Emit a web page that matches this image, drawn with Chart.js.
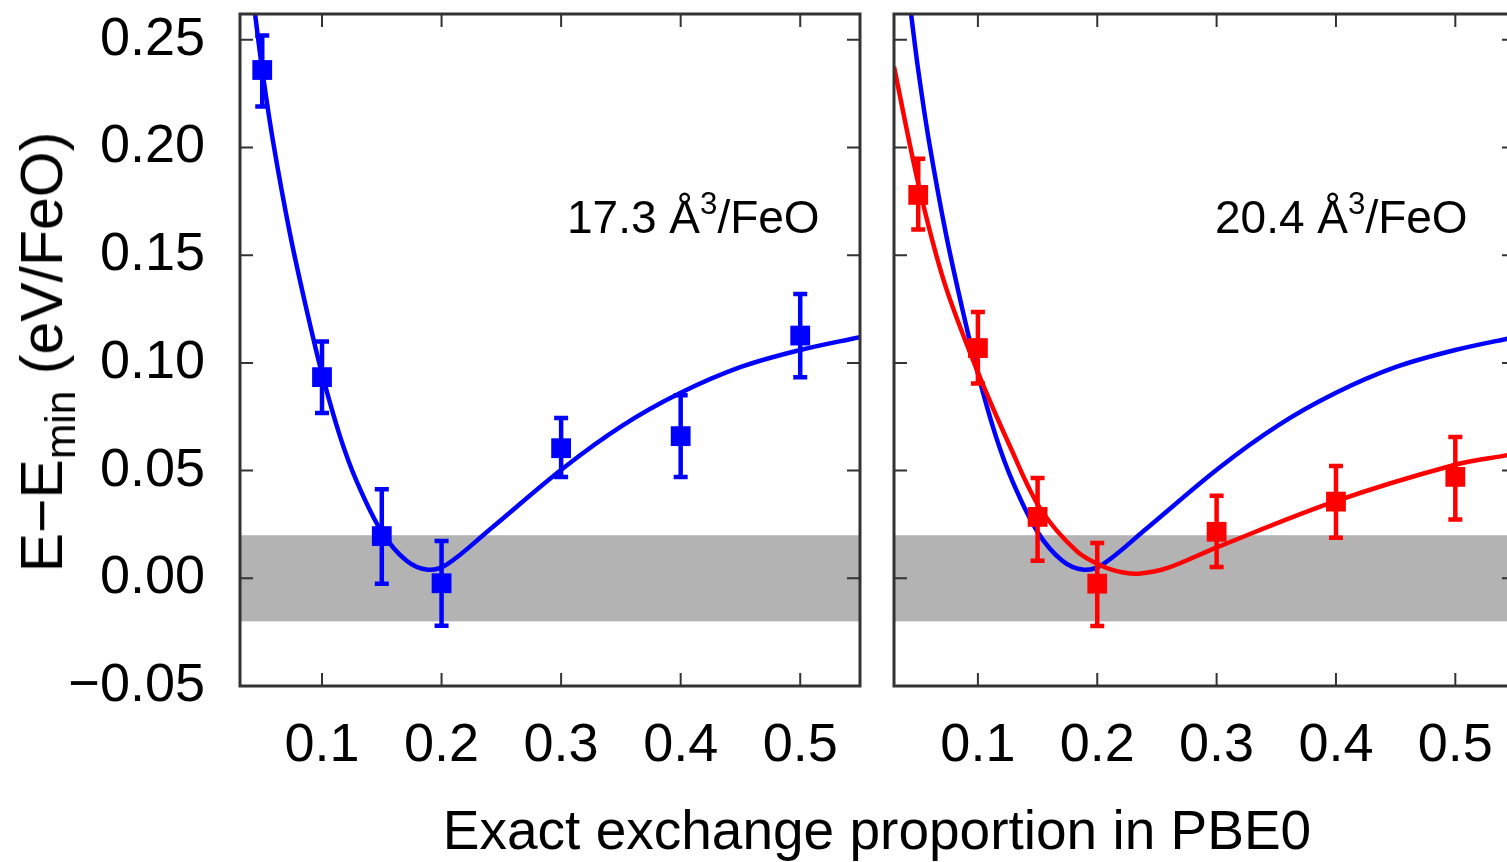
<!DOCTYPE html>
<html>
<head>
<meta charset="utf-8">
<script src="https://cdn.jsdelivr.net/npm/chart.js@4.4.1/dist/chart.umd.min.js"></script>
<style>
html, body { margin: 0; padding: 0; background: #fff; overflow: hidden; width: 1507px; height: 862px; }
body { position: relative; font-family: "Liberation Sans", Arial, sans-serif; color: #000; }
.panel { position: absolute; top: 0; height: 862px; }
#leftBox { left: 0; width: 880px; }
#rightBox { left: 880px; width: 650px; }
.note { position: absolute; top: 194px; font-size: 46px; line-height: 46px; white-space: nowrap; }
.note span { font-size: 0.68em; position: relative; top: -0.62em; }
#ytitle { position: absolute; left: 45px; top: 352px; font-size: 59px; line-height: 59px; white-space: nowrap;
  transform: translate(-50%, -50%) rotate(-90deg); }
#ytitle span { font-size: 0.72em; position: relative; top: 0.3em; }
#xtitle { position: absolute; left: 877px; top: 803px; font-size: 55px; line-height: 55px; white-space: nowrap;
  transform: translateX(-50%); }
</style>
</head>
<body>
<div class="panel" id="leftBox"><canvas id="leftChart"></canvas></div>
<div class="panel" id="rightBox"><canvas id="rightChart"></canvas></div>
<div class="note" style="left:567px">17.3 Å<span>3</span>/FeO</div>
<div class="note" style="left:1215px">20.4 Å<span>3</span>/FeO</div>
<div id="ytitle">E−E<span>min</span> (eV/FeO)</div>
<div id="xtitle">Exact exchange proportion in PBE0</div>
<script>
// exact exchange fractions of the computed points
let xVals = [0.05, 0.10, 0.15, 0.20, 0.30, 0.40, 0.50]

// 17.3 A^3/FeO (blue)
let e173 = [0.236, 0.0934, 0.0196, -0.0023, 0.0604, 0.066, 0.1127]
let e173Lo = [0.219, 0.0768, -0.0025, -0.022, 0.047, 0.047, 0.0934]
let e173Hi = [0.252, 0.110, 0.0413, 0.0173, 0.0744, 0.085, 0.132]

// 20.4 A^3/FeO (red)
let e204 = [0.178, 0.1069, 0.0285, -0.0025, 0.0216, 0.0356, 0.0471]
let e204Lo = [0.162, 0.0905, 0.0082, -0.0222, 0.0053, 0.0188, 0.0273]
let e204Hi = [0.1948, 0.1236, 0.0466, 0.0164, 0.0383, 0.0521, 0.0656]

// fitted curves
let fit173X = [0.044, 0.05, 0.059, 0.0732, 0.0874, 0.10, 0.115, 0.129, 0.15, 0.171, 0.1887, 0.2046, 0.2406, 0.3017, 0.3519, 0.3996, 0.4498, 0.50, 0.55]
let fit173Y = [0.262, 0.236, 0.203, 0.160, 0.124, 0.095, 0.066, 0.045, 0.0215, 0.0080, 0.0040, 0.0065, 0.0228, 0.0511, 0.0711, 0.086, 0.098, 0.106, 0.112]
let fit204X = [0.0297, 0.0506, 0.0715, 0.099, 0.1276, 0.1527, 0.183, 0.205, 0.222, 0.236, 0.259, 0.3008, 0.398, 0.4983, 0.5435]
let fit204Y = [0.2375, 0.182, 0.138, 0.097, 0.0604, 0.032, 0.0125, 0.0055, 0.0027, 0.0022, 0.0048, 0.0145, 0.0355, 0.0525, 0.0572]

let xTicks = [0.1, 0.2, 0.3, 0.4, 0.5]
let yTicks = [-0.05, 0.00, 0.05, 0.10, 0.15, 0.20, 0.25]
let bandLo = -0.02
let bandHi = 0.02

let font = { family: "'Liberation Sans', Arial, sans-serif", size: 54 }

function pts(xs, ys) {
    return xs.map((x, i) => ({ x: x, y: ys[i] }))
}

// grey band, inward ticks, frame and error bars
let framePlugin = {
    id: "frame",
    beforeDatasetsDraw(chart) {
        let ctx = chart.ctx, a = chart.chartArea, y = chart.scales.y
        let t = y.getPixelForValue(bandHi), b = y.getPixelForValue(bandLo)
        ctx.save()
        ctx.fillStyle = "#b3b3b3"
        ctx.fillRect(a.left, t, a.right - a.left, b - t)
        ctx.restore()
    },
    afterDatasetsDraw(chart) {
        let ctx = chart.ctx, y = chart.scales.y, x = chart.scales.x
        ctx.save()
        chart.data.datasets.forEach(ds => {
            if (!ds.errLo) return
            ctx.strokeStyle = ds.backgroundColor
            ctx.lineWidth = 4.5
            ds.data.forEach((p, i) => {
                let px = x.getPixelForValue(p.x)
                let lo = y.getPixelForValue(ds.errLo[i]), hi = y.getPixelForValue(ds.errHi[i])
                ctx.beginPath()
                ctx.moveTo(px, lo); ctx.lineTo(px, hi)
                ctx.moveTo(px - 7, lo); ctx.lineTo(px + 7, lo)
                ctx.moveTo(px - 7, hi); ctx.lineTo(px + 7, hi)
                ctx.stroke()
            })
        })
        ctx.restore()
    },
    afterDraw(chart) {
        let ctx = chart.ctx, a = chart.chartArea, y = chart.scales.y, x = chart.scales.x
        ctx.save()
        ctx.strokeStyle = "#333"
        ctx.lineWidth = 2
        ctx.beginPath()
        yTicks.forEach(v => {
            let py = y.getPixelForValue(v)
            ctx.moveTo(a.left, py); ctx.lineTo(a.left + 13, py)
            ctx.moveTo(a.right, py); ctx.lineTo(a.right - 13, py)
        })
        xTicks.forEach(v => {
            let px = x.getPixelForValue(v)
            ctx.moveTo(px, a.bottom); ctx.lineTo(px, a.bottom - 13)
            ctx.moveTo(px, a.top); ctx.lineTo(px, a.top + 13)
        })
        ctx.stroke()
        ctx.lineWidth = 3
        ctx.strokeRect(a.left, a.top, a.right - a.left, a.bottom - a.top)
        ctx.restore()
    }
}

function makeChart(id, xMin, showY, pad, datasets) {
    return new Chart(document.getElementById(id).getContext("2d"), {
        type: "scatter",
        data: { datasets: datasets },
        options: {
            responsive: true,
            maintainAspectRatio: false,
            animation: false,
            layout: { padding: pad },
            plugins: { legend: { display: false }, tooltip: { enabled: false } },
            scales: {
                x: {
                    type: "linear", min: xMin, max: 0.55,
                    grid: { display: false, drawTicks: false },
                    border: { display: false },
                    afterBuildTicks: s => { s.ticks = xTicks.map(v => ({ value: v })) },
                    afterFit: s => { s.height = 176; s.paddingLeft = 0; s.paddingRight = 0 },
                    ticks: { font: font, color: "#000", padding: 28, maxRotation: 0, autoSkip: false,
                        callback: v => v.toFixed(1) }
                },
                y: {
                    type: "linear", min: -0.05, max: 0.262,
                    grid: { display: false, drawTicks: false },
                    border: { display: false },
                    afterBuildTicks: s => { s.ticks = yTicks.map(v => ({ value: v })) },
                    afterFit: s => { s.width = showY ? 240 : 0; s.paddingTop = 0; s.paddingBottom = 0 },
                    ticks: { display: showY, font: font, color: "#000", padding: 35, autoSkip: false,
                        callback: v => (v < 0 ? "\u2212" : "") + Math.abs(v).toFixed(2) }
                }
            }
        },
        plugins: [framePlugin]
    })
}

function pointSet(ys, lo, hi, color) {
    return { data: pts(xVals, ys), errLo: lo, errHi: hi, backgroundColor: color, borderColor: color,
        pointStyle: "rect", pointRadius: 14, borderWidth: 0, showLine: false, order: 0 }
}
function curveSet(xs, ys, color, order) {
    return { data: pts(xs, ys), borderColor: color, backgroundColor: color, borderWidth: 4.5,
        pointRadius: 0, showLine: true, tension: 0.35, order: order }
}

let chart1 = makeChart("leftChart", 0.0314, true, { left: 0, top: 14, right: 20, bottom: 0 }, [
    pointSet(e173, e173Lo, e173Hi, "#0000ff"),
    curveSet(fit173X, fit173Y, "#0000ff", 1)
])

let chart2 = makeChart("rightChart", 0.0297, false, { left: 13, top: 14, right: 15, bottom: 0 }, [
    pointSet(e204, e204Lo, e204Hi, "#ff0000"),
    curveSet(fit204X, fit204Y, "#ff0000", 1),
    curveSet(fit173X, fit173Y, "#0000ff", 2)
])
</script>
</body>
</html>
